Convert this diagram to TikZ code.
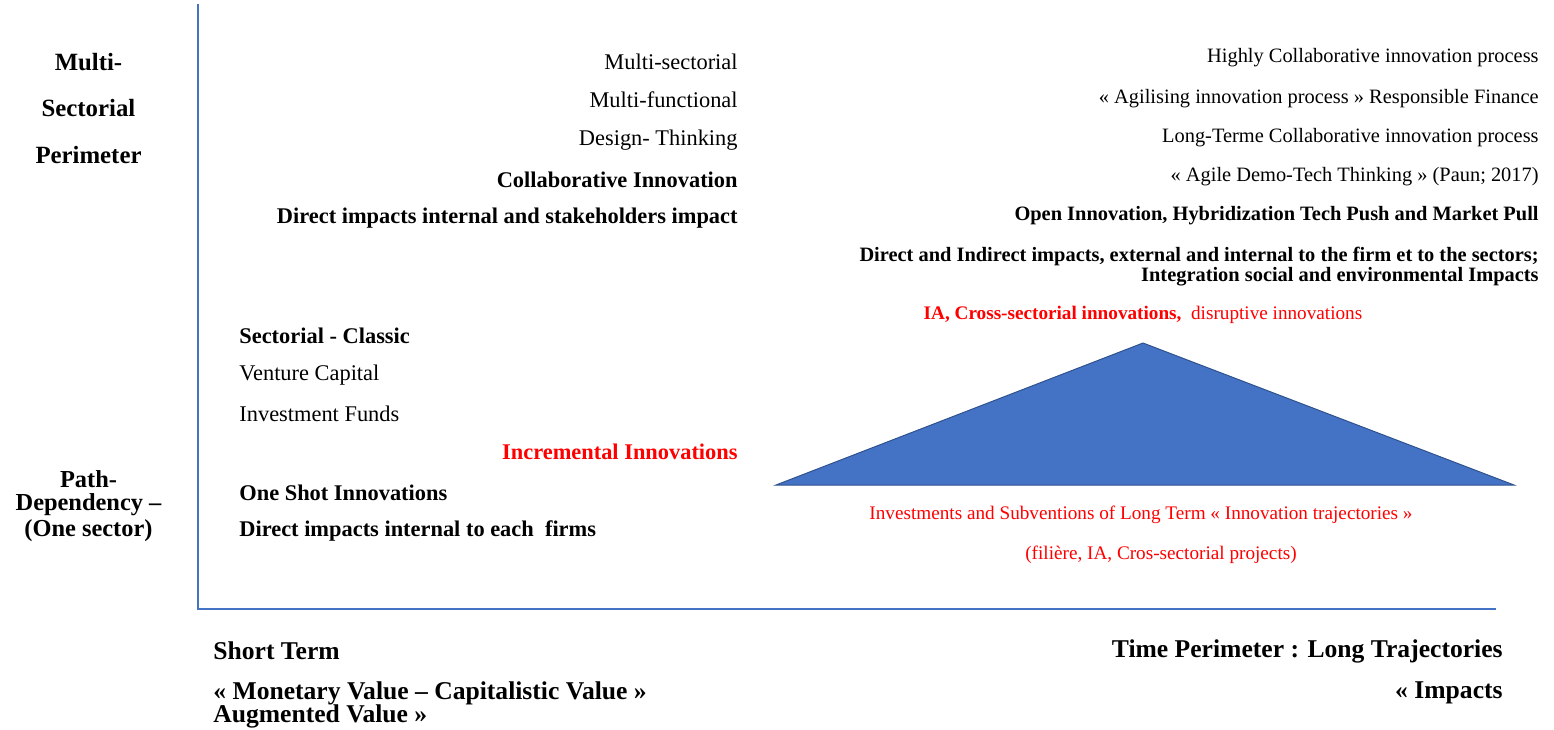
\documentclass[tikz,border=0pt]{standalone}
\usepackage{fontspec}
\setmainfont{Liberation Serif}
\definecolor{axisblue}{HTML}{4472C4}
\definecolor{triblue}{HTML}{4472C4}
\definecolor{triedge}{HTML}{2F528F}
\definecolor{tred}{HTML}{FF0000}
\tikzset{
  txt/.style={inner sep=0pt, font=\fontsize{11.2}{13}\selectfont},
  txtb/.style={inner sep=0pt, font=\fontsize{11.2}{13}\selectfont\bfseries},
  txtr/.style={inner sep=0pt, font=\fontsize{10.2}{12}\selectfont},
  txtrb/.style={inner sep=0pt, font=\fontsize{10.2}{12}\selectfont\bfseries},
  red/.style={inner sep=0pt, font=\fontsize{9.6}{11}\selectfont, text=tred},
  bot/.style={inner sep=0pt, font=\fontsize{12.8}{13}\selectfont\bfseries},
  labA/.style={inner sep=0pt, font=\fontsize{12.4}{14}\selectfont\bfseries},
  labB/.style={inner sep=0pt, font=\fontsize{12.2}{13}\selectfont\bfseries},
  axis/.style={draw=axisblue, line width=0.6pt},
}
\begin{document}
\begin{tikzpicture}[x=0.5pt,y=-0.5pt]
\useasboundingbox (0,0) rectangle (1554,729);
% axes
\coordinate (top) at (198,4);
\coordinate (origin) at (198,609);
\coordinate (xend) at (1496,609);
\draw[axis] (top) -- (origin) -- (xend);
% left labels
\node[labA] (m1) at (88.5,62) {Multi-};
\node[labA] (m2) at (88.5,108) {Sectorial};
\node[labA] (m3) at (88.5,155) {Perimeter};
\node[labB] (p1) at (88.5,479) {Path-};
\node[labB] (p2) at (88.5,505) {Dependency –};
\node[labB] (p3) at (88.5,531) {(One sector)};
% upper left column
\node[txt, anchor=east] (a1) at (738,62) {Multi-sectorial};
\node[txt, anchor=east] (a2) at (738,100) {Multi-functional};
\node[txt, anchor=east] (a3) at (738,140) {Design- Thinking};
\node[txtb, anchor=east] (a4) at (738,180) {Collaborative Innovation};
\node[txtb, anchor=east] (a5) at (738,218) {Direct impacts internal and stakeholders impact};
% upper right column
\node[txtr, anchor=east] (b1) at (1539,58) {Highly Collaborative innovation process};
\node[txtr, anchor=east] (b2) at (1539,99) {« Agilising innovation process » Responsible Finance};
\node[txtr, anchor=east] (b3) at (1539,138) {Long-Terme Collaborative innovation process};
\node[txtr, anchor=east] (b4) at (1539,177) {« Agile Demo-Tech Thinking » (Paun; 2017)};
\node[txtrb, anchor=east] (b5) at (1539,216) {Open Innovation, Hybridization Tech Push and Market Pull};
\node[txtrb, anchor=east] (b6) at (1539,256) {Direct and Indirect impacts, external and internal to the firm et to the sectors;};
\node[txtrb, anchor=east] (b7) at (1539,277) {Integration social and environmental Impacts};
\node[red] (b8) at (1143,315) {\textbf{IA, Cross-sectorial innovations,}\ \ disruptive innovations};
% triangle
\coordinate (apex) at (1143,343);
\coordinate (bl) at (776,485);
\coordinate (br) at (1514,485);
\filldraw[fill=triblue, draw=triedge, line width=0.5pt] (bl) -- (apex) -- (br) -- cycle;
\node[red] (c1) at (1141,515) {Investments and Subventions of Long Term « Innovation trajectories »};
\node[red] (c2) at (1161,555) {(filière, IA, Cros-sectorial projects)};
% lower left column
\node[txtb, anchor=west] (d1) at (239,336) {Sectorial - Classic};
\node[txt, anchor=west] (d2) at (239,375) {Venture Capital};
\node[txt, anchor=west] (d3) at (239,414) {Investment Funds};
\node[txtb, anchor=east, text=tred] (d4) at (738,452) {Incremental Innovations};
\node[txtb, anchor=west] (d5) at (239,493) {One Shot Innovations};
\node[txtb, anchor=west] (d6) at (239,531) {Direct impacts internal to each\ \ firms};
% bottom
\node[bot, anchor=west] (e1) at (213,651) {Short Term};
\node[bot, anchor=east] (e2) at (1503,651) {Time Perimeter : Long Trajectories};
\node[bot, anchor=west] (e3) at (213,693) {« Monetary Value – Capitalistic Value »};
\node[bot, anchor=west] (e4) at (213,716) {Augmented Value »};
\node[bot, anchor=east] (e5) at (1503,693) {« Impacts};
\end{tikzpicture}
\end{document}
